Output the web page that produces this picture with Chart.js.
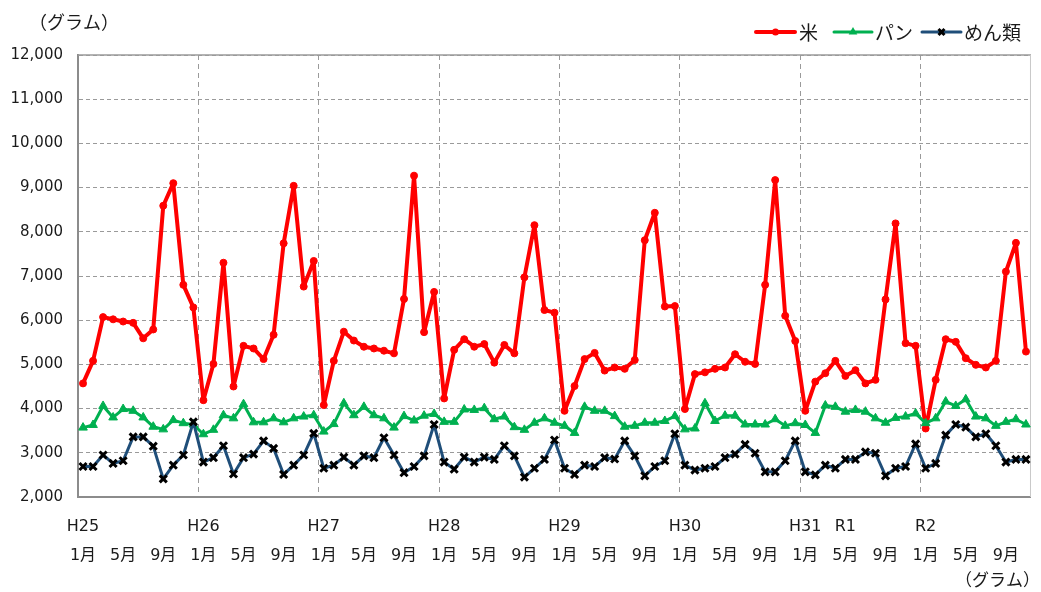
<!DOCTYPE html>
<html>
<head>
<meta charset="utf-8">
<script src="https://cdn.jsdelivr.net/npm/chart.js@4/dist/chart.umd.min.js"></script>
<style>
  html, body { margin: 0; padding: 0; background: #ffffff; }
  #wrap { width: 1041px; height: 592px; position: relative; }
</style>
</head>
<body>
<div id="wrap"><canvas id="c" width="1041" height="592"></canvas></div>
<script>
// ---- data ----
const yearLabels = ['H25', 'H26', 'H27', 'H28', 'H29', 'H30', 'H31', 'R2'];
const monthTickLabels = { 0: '1月', 4: '5月', 8: '9月' };
const eraTickLabels = { 0: 'H25', 12: 'H26', 24: 'H27', 36: 'H28', 48: 'H29', 60: 'H30', 72: 'H31', 76: 'R1', 84: 'R2' };
const monthsInLastYear = 11;

const rice = [
  4570, 5080, 6070, 6020, 5970, 5940, 5590, 5790, 8590, 9100, 6800, 6290,
  4190, 5010, 7300, 4500, 5420, 5360, 5120, 5670, 7740, 9040, 6760, 7340,
  4080, 5080, 5740, 5540, 5400, 5360, 5310, 5250, 6480, 9270, 5730, 6640,
  4230, 5330, 5570, 5400, 5460, 5040, 5440, 5250, 6970, 8150, 6230, 6170,
  3950, 4510, 5120, 5260, 4860, 4930, 4900, 5100, 7810, 8430, 6310, 6320,
  3990, 4780, 4820, 4900, 4930, 5230, 5060, 5010, 6800, 9170, 6100, 5530,
  3950, 4610, 4800, 5080, 4740, 4870, 4570, 4650, 6470, 8190, 5480, 5420,
  3550, 4650, 5570, 5510, 5140, 4990, 4930, 5080, 7100, 7750, 5290
];
const bread = [
  3570, 3630, 4060, 3800, 3990, 3950, 3800, 3590, 3530, 3740, 3670, 3640,
  3420, 3520, 3850, 3780, 4100, 3690, 3690, 3780, 3690, 3780, 3820, 3850,
  3480, 3650, 4120, 3850, 4040, 3850, 3780, 3570, 3830, 3730, 3840, 3880,
  3700, 3700, 3980, 3970, 4010, 3760, 3820, 3580, 3520, 3680, 3780, 3680,
  3610, 3450, 4040, 3950, 3950, 3830, 3590, 3610, 3680, 3680, 3720, 3830,
  3530, 3550, 4120, 3720, 3840, 3840, 3640, 3640, 3640, 3760, 3610, 3670,
  3630, 3450, 4070, 4040, 3930, 3970, 3930, 3780, 3680, 3790, 3820, 3890,
  3670, 3780, 4160, 4060, 4210, 3820, 3780, 3610, 3700, 3760, 3640
];
const noodles = [
  2690, 2690, 2950, 2760, 2820, 3360, 3360, 3150, 2410, 2720, 2950, 3700,
  2790, 2890, 3160, 2520, 2890, 2970, 3270, 3100, 2510, 2720, 2950, 3440,
  2650, 2720, 2900, 2720, 2930, 2890, 3340, 2950, 2550, 2690, 2930, 3640,
  2790, 2630, 2900, 2790, 2900, 2850, 3160, 2930, 2450, 2650, 2850, 3290,
  2650, 2510, 2720, 2690, 2890, 2860, 3270, 2930, 2480, 2690, 2820, 3430,
  2720, 2610, 2650, 2690, 2890, 2970, 3190, 2990, 2570, 2570, 2820, 3270,
  2570, 2500, 2720, 2650, 2850, 2850, 3020, 2990, 2480, 2650, 2690, 3200,
  2650, 2760, 3400, 3640, 3580, 3360, 3430, 3160, 2790, 2850, 2850
];
const seriesNames = ['米', 'パン', 'めん類'];
const unitLabel = '（グラム）';

// categories: one per month
const categories = [];
yearLabels.forEach((y, yi) => {
  const n = yi === yearLabels.length - 1 ? monthsInLastYear : 12;
  for (let m = 1; m <= n; m++) categories.push(y + ' ' + m + '月');
});

const FONT = '"DejaVu Sans", "Noto Sans CJK JP", sans-serif';
const JFONT = '"Noto Sans CJK JP", "DejaVu Sans", sans-serif';

const overlay = {
  id: 'overlay',
  beforeDatasetsDraw(chart) {
    const { ctx, chartArea: a } = chart;
    ctx.save();
    ctx.strokeStyle = '#9a9a9a';
    ctx.lineWidth = 1.5;
    ctx.beginPath(); ctx.moveTo(a.left, a.top); ctx.lineTo(a.right, a.top); ctx.stroke();
    ctx.strokeStyle = '#c8c8c8';
    ctx.lineWidth = 1;
    ctx.beginPath(); ctx.moveTo(a.right - 0.5, a.top); ctx.lineTo(a.right - 0.5, a.bottom); ctx.stroke();
    ctx.restore();
  },
  afterDraw(chart) {
    const { ctx } = chart;
    const ds = chart.data.datasets;
    ctx.save();
    // unit labels
    ctx.fillStyle = '#1a1a1a';
    ctx.textBaseline = 'middle';
    ctx.textAlign = 'left';
    ctx.font = '18px ' + JFONT;
    ctx.fillText(unitLabel, 29, 22);
    ctx.font = '17px ' + JFONT;
    ctx.fillText(unitLabel, 955, 580);
    // legend
    const items = [
      { x0: 756, x1: 795, tx: 799, d: ds[0], w: 4 },
      { x0: 834, x1: 872, tx: 875, d: ds[1], w: 3 },
      { x0: 922, x1: 961, tx: 964, d: ds[2], w: 3 }
    ];
    const y = 32;
    items.forEach(it => {
      ctx.strokeStyle = it.d.borderColor;
      ctx.lineWidth = it.w;
      ctx.lineCap = 'round';
      ctx.beginPath(); ctx.moveTo(it.x0, y); ctx.lineTo(it.x1, y); ctx.stroke();
      const cx = (it.x0 + it.x1) / 2;
      const st = it.d.pointStyle;
      ctx.fillStyle = it.d.pointBackgroundColor;
      ctx.strokeStyle = it.d.pointBorderColor;
      if (st === 'circle') {
        ctx.beginPath(); ctx.arc(cx, y, 3.5, 0, Math.PI * 2); ctx.fill();
      } else if (st === 'triangle') {
        const r = 5;
        ctx.beginPath();
        ctx.moveTo(cx, y - r);
        ctx.lineTo(cx + r * 0.866, y + r * 0.5);
        ctx.lineTo(cx - r * 0.866, y + r * 0.5);
        ctx.closePath(); ctx.fill();
      } else {
        const r = 3;
        ctx.lineWidth = 3;
        ctx.lineCap = 'butt';
        ctx.beginPath();
        ctx.moveTo(cx - r, y - r); ctx.lineTo(cx + r, y + r);
        ctx.moveTo(cx + r, y - r); ctx.lineTo(cx - r, y + r);
        ctx.stroke();
      }
      ctx.fillStyle = '#1a1a1a';
      ctx.font = '19px ' + JFONT;
      ctx.fillText(it.d.label, it.tx, y + 1);
    });
    ctx.restore();
  }
};

new Chart(document.getElementById('c'), {
  type: 'line',
  data: {
    labels: categories,
    datasets: [
      {
        label: seriesNames[0], data: rice, order: 3,
        borderColor: '#ff0000', backgroundColor: '#ff0000', borderWidth: 4,
        borderJoinStyle: 'round', borderCapStyle: 'round',
        pointStyle: 'circle', pointRadius: 3.5, pointBorderWidth: 1,
        pointBackgroundColor: '#ff0000', pointBorderColor: '#ff0000', tension: 0
      },
      {
        label: seriesNames[1], data: bread, order: 2,
        borderColor: '#00b050', backgroundColor: '#00b050', borderWidth: 3,
        borderJoinStyle: 'round', borderCapStyle: 'round',
        pointStyle: 'triangle', pointRadius: 5, pointBorderWidth: 1,
        pointBackgroundColor: '#00b050', pointBorderColor: '#00b050', tension: 0
      },
      {
        label: seriesNames[2], data: noodles, order: 1,
        borderColor: '#1f4e79', backgroundColor: '#000000', borderWidth: 3,
        borderJoinStyle: 'round', borderCapStyle: 'round',
        pointStyle: 'crossRot', pointRadius: 5, pointBorderWidth: 3,
        pointBackgroundColor: '#000000', pointBorderColor: '#000000', tension: 0
      }
    ]
  },
  options: {
    responsive: false,
    animation: false,
    devicePixelRatio: 1,
    layout: { padding: { top: 55, right: 1, bottom: 0, left: 0 } },
    plugins: { legend: { display: false }, tooltip: { enabled: false }, title: { display: false } },
    scales: {
      x: {
        type: 'category',
        offset: true,
        grid: {
          offset: true,
          drawTicks: false,
          lineWidth: 1,
          color: (c) => (c.index !== undefined && c.index > 0 && c.index < categories.length && c.index % 12 === 0) ? '#9a9a9a' : 'rgba(0,0,0,0)'
        },
        border: { display: true, color: '#8c8c8c', width: 2, dash: [5, 4] },
        ticks: {
          autoSkip: false,
          maxRotation: 0,
          minRotation: 0,
          padding: 15,
          color: '#1a1a1a',
          font: { family: FONT, size: 16, lineHeight: 1.84 },
          callback: function (v, i) {
            const m = i % 12;
            const top = eraTickLabels[i] || '';
            const bottom = monthTickLabels[m] || '';
            if (!top && !bottom) return '';
            return [top, bottom];
          }
        },
        afterFit: (s) => { s.height = 95; }
      },
      y: {
        min: 2000,
        max: 12000,
        grid: { drawTicks: false, color: '#9a9a9a', lineWidth: 1 },
        border: { display: true, color: '#8c8c8c', width: 2, dash: [4, 3] },
        ticks: {
          stepSize: 1000,
          padding: 15,
          color: '#1a1a1a',
          font: { family: FONT, size: 15 },
          callback: (v) => v.toLocaleString('en-US')
        },
        afterFit: (s) => { s.width = 78; }
      }
    }
  },
  plugins: [overlay]
});
</script>
</body>
</html>
